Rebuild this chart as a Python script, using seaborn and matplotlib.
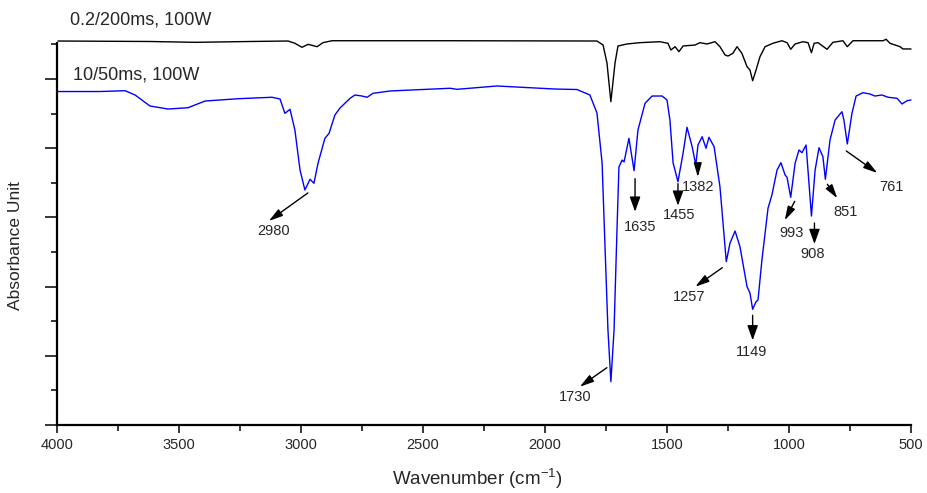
import numpy as np
import pandas as pd
import matplotlib
matplotlib.use("Agg")
import matplotlib.pyplot as plt
from matplotlib.ticker import MultipleLocator
import seaborn as sns

# FTIR spectra: wavenumber (cm^-1) and absorbance (offset, arbitrary units)
wn_cw = [3996, 3824, 3721, 3680, 3619, 3545, 3463, 3393, 3258, 3119, 3086,
         3066, 3045, 3025, 3004, 2984, 2963, 2947, 2930, 2902, 2885, 2861,
         2840, 2799, 2779, 2750, 2729, 2705, 2635, 2389, 2361, 2197, 1959,
         1869, 1816, 1787, 1766, 1754, 1742, 1730, 1717, 1705, 1697, 1684,
         1676, 1656, 1635, 1619, 1590, 1561, 1520, 1500, 1488, 1475, 1455,
         1434, 1418, 1397, 1382, 1373, 1356, 1340, 1328, 1307, 1283, 1257,
         1242, 1221, 1201, 1172, 1160, 1149, 1135, 1127, 1111, 1086, 1070,
         1049, 1033, 1016, 1008, 993, 975, 959, 947, 930, 908, 893, 877,
         861, 851, 832, 811, 783, 775, 761, 742, 725, 697, 668, 648, 619,
         594, 557, 537, 516, 500]
abs_cw = [4.819, 4.819, 4.831, 4.769, 4.610, 4.566, 4.585, 4.682, 4.715,
          4.736, 4.711, 4.504, 4.562, 4.263, 3.685, 3.396, 3.551, 3.493,
          3.786, 4.143, 4.215, 4.480, 4.581, 4.721, 4.769, 4.754, 4.736,
          4.793, 4.827, 4.866, 4.851, 4.899, 4.855, 4.848, 4.769, 4.509,
          3.786, 2.572, 1.373, 0.626, 1.373, 2.818, 3.728, 3.829, 3.801,
          4.143, 3.675, 4.263, 4.649, 4.754, 4.754, 4.697, 4.408, 3.786,
          3.516, 3.931, 4.302, 4.022, 3.757, 4.046, 4.166, 3.999, 4.158,
          4.022, 3.444, 2.360, 2.626, 2.803, 2.577, 1.999, 1.908, 1.672,
          1.782, 1.806, 2.384, 3.132, 3.324, 3.685, 3.790, 3.613, 3.579,
          3.290, 3.782, 3.974, 3.935, 4.046, 3.020, 3.685, 4.007, 3.877,
          3.551, 4.118, 4.408, 4.527, 4.408, 4.061, 4.504, 4.754, 4.802,
          4.783, 4.754, 4.769, 4.736, 4.721, 4.639, 4.686, 4.697]

wn_pulse = [3996, 3619, 3434, 3209, 3053, 3025, 2996, 2971, 2934, 2910,
            2873, 2389, 1787, 1762, 1746, 1730, 1713, 1701, 1664, 1611,
            1529, 1496, 1484, 1467, 1451, 1434, 1385, 1365, 1336, 1303,
            1283, 1262, 1250, 1230, 1213, 1193, 1172, 1160, 1149, 1135,
            1119, 1098, 1066, 1029, 1008, 993, 975, 943, 922, 908, 897,
            881, 844, 820, 779, 761, 738, 615, 602, 586, 545, 533, 500]
abs_pulse = [5.549, 5.542, 5.530, 5.542, 5.549, 5.516, 5.458, 5.501, 5.467,
             5.525, 5.553, 5.553, 5.549, 5.491, 5.231, 4.672, 5.231, 5.477,
             5.506, 5.525, 5.539, 5.516, 5.419, 5.467, 5.395, 5.477, 5.491,
             5.525, 5.506, 5.539, 5.467, 5.347, 5.332, 5.371, 5.467, 5.371,
             5.178, 5.130, 4.975, 5.130, 5.322, 5.467, 5.516, 5.553, 5.525,
             5.429, 5.506, 5.539, 5.525, 5.380, 5.516, 5.525, 5.429, 5.530,
             5.553, 5.467, 5.553, 5.553, 5.574, 5.516, 5.467, 5.434, 5.434]

series_labels = ["0.2/200ms, 100W", "10/50ms, 100W"]

# labelled bands on the lower spectrum
peak_wn = [2980, 1730, 1635, 1455, 1382, 1257, 1149, 993, 908, 851, 761]
peak_text = ["2980", "1730", "1635", "1455", "1382", "1257", "1149",
             "993", "908", "851", "761"]

sns.set_style("ticks")
plt.rcParams["font.family"] = ["Liberation Sans", "DejaVu Sans"]
plt.rcParams["mathtext.fontset"] = "custom"
plt.rcParams["mathtext.rm"] = "Liberation Sans"
plt.rcParams["mathtext.it"] = "Liberation Sans:italic"

fig = plt.figure(figsize=(9.27, 4.93), dpi=100)
ax = fig.add_axes([57 / 927, 68 / 493, 854 / 927, 382 / 493])

df_cw = pd.DataFrame({"wn": wn_cw, "a": abs_cw})
df_pulse = pd.DataFrame({"wn": wn_pulse, "a": abs_pulse})

sns.lineplot(data=df_pulse, x="wn", y="a", ax=ax, color="black", lw=1.0,
             sort=False, estimator=None)
sns.lineplot(data=df_cw, x="wn", y="a", ax=ax, color="#0000ff", lw=1.0,
             sort=False, estimator=None)
for ln in ax.lines:
    ln.set_clip_on(False)
    ln.set_solid_joinstyle("round")

ax.set_xlim(4000, 500)
ax.set_ylim(0, 382 / 69.2)

ax.xaxis.set_major_locator(MultipleLocator(500))
ax.xaxis.set_minor_locator(MultipleLocator(250))
ax.yaxis.set_major_locator(MultipleLocator(1))
ax.yaxis.set_minor_locator(MultipleLocator(0.5))
ax.tick_params(axis="y", which="major", direction="out", length=8.5,
               width=1.3, labelleft=False)
ax.tick_params(axis="y", which="minor", direction="out", length=4.5, width=1.3)
ax.tick_params(axis="x", which="major", direction="out", length=5.5,
               width=1.3, labelsize=10.5, pad=4)
ax.tick_params(axis="x", which="minor", direction="out", length=4, width=1.3)

for side in ["top", "right"]:
    ax.spines[side].set_visible(False)
for side in ["left", "bottom"]:
    ax.spines[side].set_linewidth(1.6)
    ax.spines[side].set_color("black")

ax.set_xlabel(r"Wavenumber (cm$^{-1}$)", fontsize=13.5)
ax.set_ylabel("Absorbance Unit", fontsize=12.5)
ax.xaxis.set_label_coords(0.492, -0.11)
ax.yaxis.set_label_coords(-0.04, 0.47)

# series captions
ax.text(3947, 5.85, series_labels[0], fontsize=13, ha="left", va="center")
ax.text(3935, 5.06, series_labels[1], fontsize=13, ha="left", va="center")

# arrow geometry per band, in pixels relative to the band minimum (y down)
arrow_start = [(2, 5), (-4, -14), (1, 8), (0, 2), (2, 0), (-4, 6), (0, 6),
               (4, 4), (3, 7), (2, 5), (-1, 7)]
arrow_head = [(-37, 33), (-31, 5), (1, 41), (0, 24), (2, 12), (-31, 25),
              (0, 31), (-6, 23), (3, 28), (12, 19), (30, 29)]
text_pos = [(-32, 43), (-36, 15), (6, 56), (1, 33), (2, 22), (-37, 35),
            (-1, 43), (1, 36), (1, 38), (20, 33), (44, 43)]
big_head = {"1635", "1455", "1149", "908"}

fig.canvas.draw()
for w, lab, s, h, t in zip(peak_wn, peak_text, arrow_start, arrow_head, text_pos):
    a = np.interp(w, wn_cw[::-1], abs_cw[::-1])
    px, py = ax.transData.transform((w, a))
    if lab in big_head:
        style = "-|>,head_length=0.75,head_width=0.27"
    else:
        style = "-|>,head_length=0.7,head_width=0.2"
    ax.annotate("", xy=(px + h[0], py - h[1]), xycoords="figure pixels",
                xytext=(px + s[0], py - s[1]), textcoords="figure pixels",
                arrowprops=dict(arrowstyle=style, color="black", lw=1.0,
                                mutation_scale=12, shrinkA=0, shrinkB=0))
    ax.annotate(lab, xy=(px + t[0], py - t[1]), xycoords="figure pixels",
                ha="center", va="center", fontsize=10.5)

fig.savefig("out.png", dpi=100)
